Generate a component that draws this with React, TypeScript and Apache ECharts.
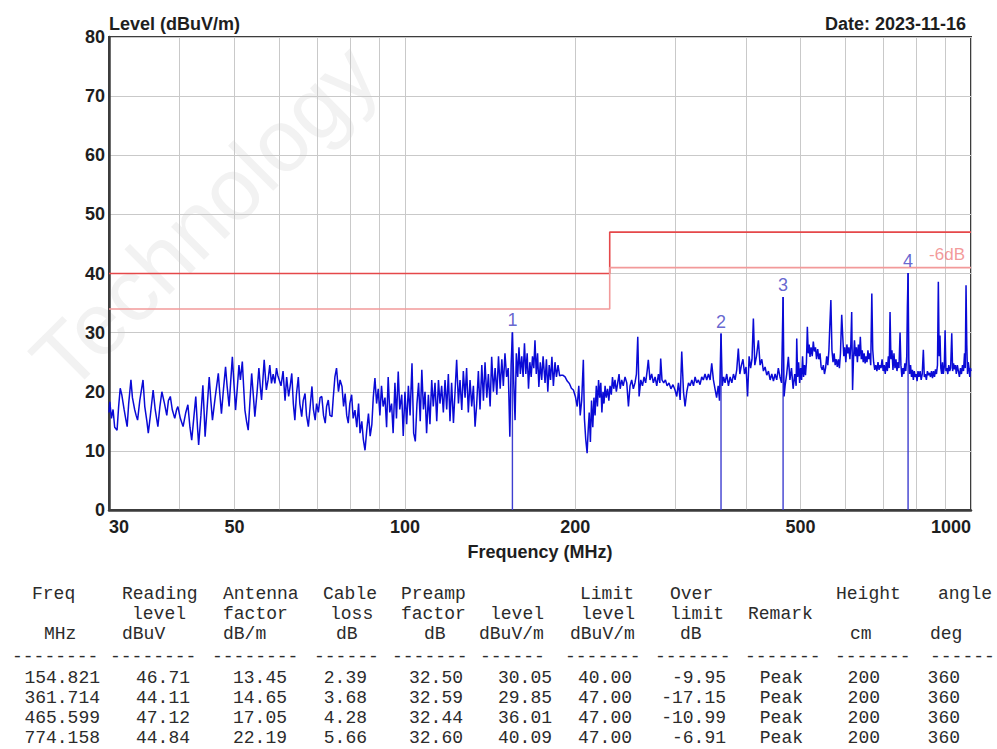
import React, { useEffect, useRef } from 'react';
import * as echarts from 'echarts';

// ---------------- DATA ----------------
const dateText = 'Date: 2023-11-16';
const yTitle = 'Level (dBuV/m)';
const xTitle = 'Frequency (MHz)';
const watermarkText = 'Technology';

// vertical grid frequencies and labelled frequencies (MHz)
const gridFreqs = [30, 40, 50, 60, 70, 80, 90, 100, 200, 300, 400, 500, 600, 700, 800, 900, 1000];
const labelFreqs = [30, 50, 100, 200, 500, 1000];

// limit line: [30..230] -> 40, [230..1000] -> 47 ; margin line -6 dB
const limitEdges = [30, 230, 1000];
const limitLevels = [40, 47];
const marginDb = 6;
const marginLabel = '-6dB';

// marker table
const markerNo = ['1', '2', '3', '4'];
const markerFreq = [154.821, 361.714, 465.599, 774.158];
const readingLevel = [46.71, 44.11, 47.12, 44.84];
const antennaFactor = [13.45, 14.65, 17.05, 22.19];
const cableLoss = [2.39, 3.68, 4.28, 5.66];
const preampFactor = [32.5, 32.59, 32.44, 32.6];
const markerLevel = [30.05, 29.85, 36.01, 40.09];
const limitLevel = [40.0, 47.0, 47.0, 47.0];
const overLimit = [-9.95, -17.15, -10.99, -6.91];
const remark = ['Peak', 'Peak', 'Peak', 'Peak'];
const heightCm = [200, 200, 200, 200];
const angleDeg = [360, 360, 360, 360];

const headerRow1 = ['Freq', 'Reading', 'Antenna', 'Cable', 'Preamp', 'Limit', 'Over', 'Height', 'angle'];
const headerRow2 = ['level', 'factor', 'loss', 'factor', 'level', 'level', 'limit', 'Remark'];
const headerRow3 = ['MHz', 'dBuV', 'dB/m', 'dB', 'dB', 'dBuV/m', 'dBuV/m', 'dB', 'cm', 'deg'];

// measured trace [MHz, dBuV/m]
const traceA: [number, number][] = [
  [30.0, 16.5], [30.1, 18.3], [30.3, 15.5], [30.5, 17.0], [30.7, 14.0], [31.0, 13.5], [31.2, 17.5], [31.4, 20.6],
  [31.6, 19.5], [31.9, 17.0], [32.1, 15.5], [32.3, 14.1], [32.5, 18.0], [32.8, 22.0], [33.0, 19.0], [33.3, 17.0],
  [33.5, 16.0], [33.7, 15.2], [34.0, 18.5], [34.45, 22.0], [34.7, 17.5], [35.0, 15.0], [35.2, 13.0], [35.5, 16.0],
  [35.9, 20.3], [36.2, 17.0], [36.6, 14.1], [36.9, 17.5], [37.2, 20.0], [37.6, 18.0], [37.95, 16.0], [38.2, 18.5],
  [38.5, 19.2], [38.8, 17.0], [39.2, 15.5], [39.5, 17.0], [39.7, 17.5], [40.1, 15.5], [40.55, 14.1], [41.0, 16.5],
  [41.35, 17.8], [41.7, 14.0], [42.0, 11.8], [42.3, 15.0], [42.7, 19.2], [43.0, 14.0], [43.2, 11.0], [43.6, 16.0],
  [43.95, 21.1], [44.2, 16.0], [44.35, 12.4], [44.7, 17.0], [45.1, 22.5], [45.4, 18.5], [45.7, 15.2], [46.2, 19.0],
  [46.8, 23.1], [47.1, 19.5], [47.4, 16.3], [47.8, 20.5], [48.2, 24.2], [48.5, 21.0], [48.9, 17.5], [49.2, 21.5],
  [49.55, 25.9], [49.9, 21.0], [50.2, 16.9], [50.5, 20.0], [50.9, 24.5], [51.2, 22.0], [51.6, 25.1], [51.9, 20.5],
  [52.15, 16.9], [52.5, 15.0], [52.85, 13.5], [53.2, 18.0], [53.6, 23.1], [54.0, 19.0], [54.3, 15.8], [54.8, 20.0],
  [55.2, 24.0], [55.5, 21.0], [55.8, 18.6], [56.1, 22.0], [56.4, 25.4], [56.9, 20.3], [57.3, 22.0], [57.7, 24.5],
  [58.1, 21.4], [58.5, 23.0], [58.9, 21.4], [59.3, 24.0], [59.6, 22.8],
];
const traceB: [number, number][] = [
  [60.4, 21.0], [60.9, 23.5], [61.4, 18.5], [61.8, 22.5], [62.3, 19.2], [62.7, 21.0], [63.1, 23.1], [63.5, 18.0],
  [63.9, 15.2], [64.3, 19.5], [64.8, 22.5], [65.2, 18.0], [65.7, 15.8], [66.1, 18.5], [66.6, 19.7], [67.0, 16.0],
  [67.5, 14.1], [68.0, 17.5], [68.5, 20.9], [68.9, 17.0], [69.4, 15.2], [69.8, 18.0], [70.3, 16.5], [70.8, 19.0],
  [71.3, 19.2], [71.8, 16.0], [72.3, 14.7], [72.7, 17.5], [73.2, 18.6], [73.7, 16.0], [74.3, 15.8], [74.7, 19.0],
  [75.2, 22.5], [75.7, 24.0], [76.3, 20.0], [76.8, 22.0], [77.4, 20.9], [77.9, 17.5], [78.4, 19.7], [78.9, 16.0],
  [79.4, 14.7], [79.9, 18.0], [80.5, 19.5], [81.0, 15.5], [81.6, 16.9], [82.2, 14.0], [82.8, 18.0], [83.3, 13.0],
  [83.9, 15.0], [84.4, 12.0], [85.0, 10.1], [85.6, 13.5], [86.2, 16.3], [86.8, 12.5], [87.4, 14.5], [87.9, 19.0],
  [88.5, 22.3], [89.1, 18.0], [89.7, 20.5], [90.3, 16.0], [90.9, 21.0], [91.5, 17.5], [92.2, 19.0], [92.8, 14.0],
  [93.4, 22.5], [94.0, 16.5], [94.7, 18.0], [95.3, 13.0], [96.0, 21.5], [96.6, 15.5], [97.3, 23.4], [97.9, 17.0],
  [98.7, 19.5], [99.3, 12.5], [100.0, 20.0], [100.7, 14.5], [101.4, 21.0], [102.1, 16.0], [102.9, 24.8], [103.6, 13.0],
  [104.3, 11.6], [105.0, 18.0], [105.7, 21.5], [106.4, 15.0], [107.1, 23.7], [107.8, 17.0], [108.5, 20.0], [109.2, 13.0],
  [110.0, 19.5], [110.7, 14.5], [111.5, 22.0], [112.2, 17.5], [113.0, 21.5], [113.8, 15.0], [114.6, 22.0], [115.3, 18.0],
  [116.1, 21.0], [116.9, 16.5], [117.7, 22.0],
];
const traceC: [number, number][] = [
  [118.5, 17.0], [119.3, 23.0], [120.1, 15.0], [120.9, 21.5], [121.8, 14.7], [122.6, 20.0], [123.4, 25.4], [124.3, 18.0],
  [125.1, 22.0], [126.0, 16.9], [126.8, 23.5], [127.7, 19.0], [128.5, 24.0], [129.4, 16.5], [130.3, 22.0], [131.2, 17.5],
  [132.1, 21.0], [133.0, 14.1], [133.9, 18.0], [134.8, 23.5], [135.7, 17.0], [136.7, 24.5], [137.6, 18.5], [138.5, 25.0],
  [139.5, 19.0], [140.4, 23.0], [141.4, 17.5], [142.3, 25.9], [143.3, 20.0], [144.3, 24.0], [145.3, 19.5], [146.3, 26.0],
  [147.3, 20.5], [148.3, 25.5], [149.2, 21.0], [150.2, 26.5], [151.2, 22.5], [152.2, 24.0], [153.2, 12.4], [154.0, 24.5],
  [154.821, 30.05], [155.6, 22.0], [156.5, 15.2], [157.3, 26.5], [158.2, 22.5], [159.0, 27.5], [159.9, 23.0], [160.8, 26.0],
  [161.7, 22.5], [162.6, 28.2], [163.5, 23.0], [164.4, 26.5], [165.3, 20.5], [166.2, 25.0], [167.1, 22.5], [168.0, 26.0],
  [168.9, 24.0], [169.7, 28.7], [170.6, 23.0], [171.5, 26.5], [172.4, 20.8], [173.4, 25.0], [174.4, 22.0], [175.4, 26.0],
  [176.8, 21.5], [177.8, 25.5], [178.8, 20.0], [179.8, 24.5], [180.8, 22.0], [181.8, 25.9], [182.9, 21.0], [184.1, 25.0],
  [185.2, 22.5], [186.4, 24.5], [187.6, 22.7], [188.8, 22.8], [190.0, 22.8], [191.8, 22.5], [193.5, 21.8], [195.2, 21.4],
  [196.8, 20.6], [198.4, 20.3], [200.0, 19.2], [201.5, 17.5], [202.8, 21.0], [204.0, 16.0], [205.2, 18.5], [206.6, 25.4],
  [207.5, 15.5], [208.6, 12.0], [209.8, 9.6], [210.7, 13.5], [211.6, 16.5], [212.6, 11.5], [213.6, 18.5], [214.7, 14.0],
  [215.7, 19.0], [216.7, 16.0], [217.8, 21.0], [218.8, 17.5], [219.8, 22.0], [220.8, 19.0], [221.8, 21.5], [222.8, 16.5],
  [223.8, 20.0], [224.7, 18.0], [225.7, 21.0], [226.8, 19.0], [228.0, 20.5], [229.2, 18.5], [230.3, 21.0], [231.5, 19.5],
  [232.6, 22.5], [233.8, 20.5], [235.0, 22.0], [236.3, 20.0], [237.6, 21.5], [238.9, 23.0],
];
const traceD: [number, number][] = [
  [240.0, 20.5], [241.5, 22.0], [243.0, 21.0], [244.8, 22.5], [246.5, 21.5], [248.2, 17.5], [249.8, 21.0], [251.5, 22.0],
  [253.2, 20.5], [254.9, 21.5], [256.4, 23.0], [257.8, 29.3], [259.2, 19.2], [261.0, 22.0], [262.8, 21.0], [264.5, 22.5],
  [266.2, 21.5], [267.8, 23.5], [269.1, 25.4], [270.9, 22.0], [272.8, 23.0], [274.7, 21.5], [276.6, 22.5], [278.5, 21.0],
  [280.4, 23.0], [282.0, 21.5], [283.0, 25.6], [284.5, 22.0], [286.5, 21.5], [288.5, 22.0], [290.5, 21.0], [292.7, 21.5],
  [295.0, 20.5], [297.5, 21.2], [300.0, 20.3], [302.1, 19.2], [304.2, 21.5], [306.3, 18.6], [308.3, 26.8], [310.5, 20.0],
  [312.5, 17.5], [314.7, 20.0], [316.9, 21.5], [319.0, 21.0], [321.2, 22.0], [323.4, 21.0], [325.5, 22.5], [327.7, 21.5],
  [329.9, 22.0], [332.1, 21.2], [334.4, 22.5], [336.6, 22.0], [338.9, 23.0], [341.3, 22.0], [343.7, 23.0], [346.0, 22.0],
  [348.3, 24.8], [350.7, 22.0], [353.0, 20.5], [355.3, 19.0], [357.6, 21.0], [359.5, 18.5], [361.714, 29.85], [363.5, 21.0],
  [365.6, 22.5], [367.7, 21.5], [370.2, 23.0], [372.8, 21.0], [375.4, 22.5], [378.0, 21.5], [380.5, 23.0], [383.0, 22.0],
  [385.6, 23.7], [388.1, 27.3], [390.5, 23.0], [393.0, 24.5], [395.5, 25.5], [398.0, 23.0], [400.5, 24.2], [403.0, 19.2],
  [405.5, 26.0], [408.0, 24.0], [410.3, 25.5], [412.6, 32.4], [415.0, 24.5], [417.8, 26.0], [421.1, 28.7], [424.0, 24.5],
  [427.0, 25.5], [429.8, 23.5], [432.7, 24.2], [435.7, 22.8], [438.7, 23.5], [441.7, 22.0], [444.7, 23.0], [447.7, 21.8],
  [450.7, 23.0], [453.7, 22.0], [456.7, 24.0], [459.7, 22.5], [462.7, 21.5], [465.599, 36.01], [467.5, 19.2], [469.4, 21.0],
  [472.5, 23.0], [475.7, 25.9], [478.7, 22.0], [481.8, 24.0], [485.0, 20.5], [488.2, 23.0],
];
const traceE: [number, number][] = [
  [491.0, 21.0], [492.2, 29.0], [494.0, 22.5], [496.0, 25.0], [498.0, 21.5], [500.0, 24.0], [502.0, 22.0], [504.0, 26.0],
  [506.0, 22.5], [508.0, 24.5], [510.0, 22.8], [512.0, 25.0], [513.9, 31.0], [515.8, 26.5], [517.7, 28.0], [519.5, 25.9],
  [521.8, 27.5], [524.2, 26.0], [526.5, 28.5], [528.8, 26.8], [531.2, 27.5], [533.5, 25.5], [536.0, 27.2], [538.5, 25.5],
  [541.1, 26.5], [543.5, 24.2], [546.0, 23.7], [548.5, 24.5], [551.0, 23.0], [553.5, 24.0], [556.0, 26.0], [558.5, 24.5],
  [561.0, 27.0], [563.0, 31.0], [565.5, 35.5], [568.0, 27.0], [570.5, 25.0], [573.0, 26.5], [575.5, 24.5], [578.0, 25.5],
  [580.5, 24.2], [583.0, 25.5], [585.5, 24.0], [588.0, 26.5], [591.0, 33.0], [593.5, 29.3], [596.0, 26.0], [598.5, 27.5],
  [601.0, 25.0], [603.5, 28.0], [606.0, 26.5], [608.5, 27.5], [611.0, 25.5], [613.3, 28.0], [615.5, 33.5], [617.7, 20.3],
  [620.0, 25.5], [622.5, 28.7], [625.0, 26.0], [627.5, 27.5], [630.0, 25.0], [632.5, 28.0], [635.0, 26.0], [637.5, 29.3],
  [640.0, 25.5], [642.5, 27.0], [645.0, 25.0], [647.5, 26.5], [650.0, 24.8], [652.5, 26.0], [655.0, 25.0], [657.5, 27.0],
  [660.0, 25.5], [662.5, 26.5], [665.0, 24.5], [668.0, 36.6], [670.5, 27.1], [673.0, 25.0], [676.0, 23.7], [679.0, 24.5],
  [682.0, 23.5], [685.0, 25.0], [688.0, 23.7], [690.7, 24.5], [693.5, 24.0], [696.5, 25.5], [699.5, 23.5], [702.5, 24.5],
  [705.5, 23.0], [708.5, 25.0], [711.5, 23.5], [714.5, 26.0], [717.0, 24.0], [719.4, 33.5], [722.0, 25.5], [725.0, 27.0],
  [728.0, 23.7], [731.0, 26.5], [734.0, 24.0], [737.0, 25.5], [740.0, 23.5], [743.0, 25.0], [746.0, 24.0], [749.3, 30.0],
  [752.0, 24.5], [755.0, 22.5], [758.0, 24.0], [761.0, 23.0], [764.0, 24.8], [767.0, 23.5], [770.0, 26.0], [772.0, 34.4],
  [774.158, 40.09], [776.5, 25.5], [779.0, 23.0], [782.0, 24.5], [785.0, 22.5], [788.0, 23.7], [791.0, 22.0], [794.0, 23.5],
  [797.0, 22.5], [800.0, 23.0], [803.0, 21.8], [806.0, 23.5], [809.5, 22.5], [813.0, 23.5], [816.5, 22.0], [820.0, 23.0],
  [823.8, 27.1], [827.0, 22.5], [830.5, 23.0], [834.0, 22.0], [837.5, 23.5], [841.0, 22.8], [844.5, 23.2], [848.0, 22.5],
  [851.5, 23.5], [855.0, 22.3], [858.5, 23.5], [862.0, 22.5], [865.5, 23.8], [869.0, 23.0], [872.5, 24.5], [875.6, 38.6],
  [878.5, 26.0], [881.5, 29.5], [884.5, 24.0], [887.5, 23.0], [890.5, 25.0], [893.5, 23.0], [897.0, 24.2], [900.0, 30.4],
  [903.0, 23.5], [906.5, 24.0], [910.0, 23.0], [913.5, 24.5], [917.0, 23.5], [920.5, 24.0], [924.7, 29.9], [928.0, 23.5],
  [931.5, 24.8], [935.0, 23.8], [938.5, 24.5], [942.0, 23.0], [946.0, 24.5], [950.0, 23.5], [954.0, 22.5], [958.0, 24.0],
  [962.0, 23.0], [966.0, 24.5], [970.0, 23.5], [974.0, 26.5], [977.0, 24.0], [980.0, 38.0], [983.0, 28.0], [986.0, 23.0],
  [989.0, 25.0], [992.0, 24.0], [995.0, 22.5], [998.0, 24.0], [1000.0, 23.5],
];

// ---------------- LAYOUT (not data) ----------------
const W = 997;
const H = 749;
const header1X = [32, 122, 223, 323, 401, 580, 670, 836, 938];
const header2X = [132, 223, 330, 401, 490, 581, 670, 748];
const header3X = [44, 122, 223, 336, 424, 479, 570, 680, 850, 930];
const headerY = [594, 614, 634];
const dashX = [12, 110, 212, 314, 392, 480, 565, 655, 745, 835, 930];
const dashN = [8, 8, 8, 6, 7, 6, 7, 7, 7, 7, 6];
const dashY = 657;
const colRight = [100, 190, 287, 367, 463, 552, 632, 726, 803, 880, 960];
const rowY = [678, 698, 718, 738];

export default function App() {
  const ref = useRef<HTMLDivElement>(null);

  useEffect(() => {
    document.body.style.margin = '0';
    if (!ref.current) return;
    const chart = echarts.init(ref.current, undefined, { renderer: 'svg' });

    const trace = [...traceA, ...traceB, ...traceC, ...traceD, ...traceE];

    const limitData: [number, number][] = [
      [limitEdges[0], limitLevels[0]], [limitEdges[1], limitLevels[0]],
      [limitEdges[1], limitLevels[1]], [limitEdges[2], limitLevels[1]],
    ];
    const marginData: [number, number][] = limitData.map(([f, v]) => [f, v - marginDb]);

    const markerLines = markerFreq.map((f, i) => ({
      type: 'line',
      data: [[f, 0], [f, markerLevel[i]]],
      symbol: 'none',
      silent: true,
      lineStyle: { color: '#3e3ed0', width: 1.4 },
      z: 4,
    }));

    const mono = { fontFamily: 'Liberation Mono', fontSize: 18, fill: '#2b2b2b' };
    const graphics: any[] = [];
    // faint watermark
    graphics.push({
      type: 'text', x: 78, y: 405, rotation: Math.PI / 4, z: -10, silent: true,
      style: { text: watermarkText, fontFamily: 'Liberation Sans', fontSize: 88, fill: '#f2f2f2', align: 'left', verticalAlign: 'bottom' },
    });
    // y axis title
    graphics.push({
      type: 'text', x: 109, y: 24, silent: true,
      style: { text: yTitle, fontFamily: 'Liberation Sans', fontWeight: 'bold', fontSize: 18, fill: '#1e1e1e', align: 'left', verticalAlign: 'middle' },
    });
    const addRow = (texts: string[], xs: number[], y: number) =>
      texts.forEach((t, i) => graphics.push({ type: 'text', x: xs[i], y, style: { ...mono, text: t, align: 'left', verticalAlign: 'middle' } }));
    addRow(headerRow1, header1X, headerY[0]);
    addRow(headerRow2, header2X, headerY[1]);
    addRow(headerRow3, header3X, headerY[2]);
    addRow(dashN.map((n) => '-'.repeat(n)), dashX, dashY);

    const columns: string[][] = [
      markerFreq.map((v) => v.toFixed(3)),
      readingLevel.map((v) => v.toFixed(2)),
      antennaFactor.map((v) => v.toFixed(2)),
      cableLoss.map((v) => v.toFixed(2)),
      preampFactor.map((v) => v.toFixed(2)),
      markerLevel.map((v) => v.toFixed(2)),
      limitLevel.map((v) => v.toFixed(2)),
      overLimit.map((v) => v.toFixed(2)),
      remark,
      heightCm.map(String),
      angleDeg.map(String),
    ];
    columns.forEach((col, c) =>
      col.forEach((t, r) =>
        graphics.push({ type: 'text', x: colRight[c], y: rowY[r], style: { ...mono, text: t, align: 'right', verticalAlign: 'middle' } })
      )
    );

    const boldText = { fontFamily: 'Liberation Sans', fontWeight: 'bold' as const, color: '#1e1e1e' };

    chart.setOption({
      animation: false,
      backgroundColor: '#ffffff',
      textStyle: { fontFamily: 'Liberation Sans' },
      title: { text: dateText, right: 26, top: 10, textStyle: { ...boldText, fontSize: 18 } },
      grid: { left: 109, top: 37, width: 862, height: 473, show: true, borderColor: '#3c3c3c', borderWidth: 2, backgroundColor: 'transparent' },
      xAxis: {
        type: 'log', logBase: 10, min: 30, max: 1000,
        name: xTitle, nameLocation: 'middle', nameGap: 33,
        nameTextStyle: { ...boldText, fontSize: 18 },
        axisLine: { show: true, onZero: false, lineStyle: { color: '#3c3c3c', width: 2.5 } },
        axisTick: { show: false, customValues: gridFreqs },
        axisLabel: {
          customValues: labelFreqs, ...boldText, fontSize: 18, margin: 8,
          alignMinLabel: 'left', alignMaxLabel: 'right', formatter: (v: number) => String(Math.round(v)),
        },
        splitLine: { show: true, lineStyle: { color: '#c9c9c9', width: 1 } },
        minorSplitLine: { show: false },
      },
      yAxis: {
        type: 'value', min: 0, max: 80, interval: 10,
        axisLine: { show: true, lineStyle: { color: '#3c3c3c', width: 2.5 } },
        axisTick: { show: false },
        axisLabel: { ...boldText, fontSize: 18, margin: 4 },
        splitLine: { show: true, lineStyle: { color: '#c9c9c9', width: 1 } },
      },
      graphic: graphics,
      series: [
        {
          type: 'line', data: limitData, symbol: 'none', silent: true,
          lineStyle: { color: '#e5484a', width: 1.6 }, z: 3,
        },
        {
          type: 'line', data: marginData, symbol: 'none', silent: true,
          lineStyle: { color: '#f29a9a', width: 1.6 }, z: 3,
        },
        {
          type: 'scatter', data: [[limitEdges[2], limitLevels[1] - marginDb]], symbolSize: 0, silent: true,
          label: { show: true, formatter: marginLabel, position: 'left', distance: 6, offset: [0, -13], color: '#f08080', fontSize: 17, fontFamily: 'Liberation Sans' },
          z: 6,
        },
        {
          type: 'line', data: trace, symbol: 'none', silent: true,
          lineStyle: { color: '#0a0ad6', width: 1.5 }, z: 5,
        },
        ...markerLines,
        {
          type: 'scatter', data: markerFreq.map((f, i) => [f, markerLevel[i]]), symbolSize: 0, silent: true,
          label: { show: true, position: 'top', distance: 3, formatter: (p: any) => markerNo[p.dataIndex], color: '#4040c4', fontSize: 18, fontFamily: 'Liberation Sans' },
          z: 6,
        },
      ],
    });

    return () => chart.dispose();
  }, []);

  return <div ref={ref} style={{ width: W, height: H }} />;
}
